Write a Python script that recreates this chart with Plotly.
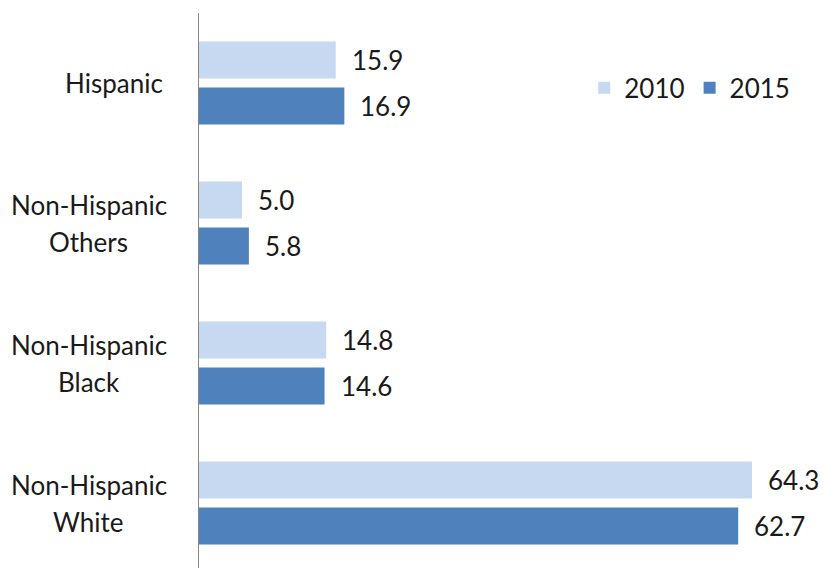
import plotly.graph_objects as go

categories = ["Hispanic", "Non-Hispanic<br>Others", "Non-Hispanic<br>Black", "Non-Hispanic<br>White"]
v2010 = [15.9, 5.0, 14.8, 64.3]
v2015 = [16.9, 5.8, 14.6, 62.7]
series_names = ["2010", "2015"]

FONT = "Lato"
FS = 26
C2010 = "#C6D9F0"
C2015 = "#4F81BD"
TXT = "#1a1a1a"

fig = go.Figure()
fig.add_trace(go.Bar(y=categories, x=v2010, name=series_names[0], orientation="h",
                     marker=dict(color=C2010, line=dict(width=0))))
fig.add_trace(go.Bar(y=categories, x=v2015, name=series_names[1], orientation="h",
                     marker=dict(color=C2015, line=dict(width=0))))

ann = []
for i, c in enumerate(categories):
    lines = c.split("<br>")
    n = len(lines)
    for k, ln in enumerate(lines):
        ys = ((n - 1) / 2 - k) * 37
        ann.append(dict(x=-34/602, y=c, xref="paper", yref="y", text=ln, showarrow=False,
                        xanchor="right" if n == 1 else "center", yanchor="middle", align="center",
                        xshift=0 if n == 1 else -(153/2),
                        yshift=ys,
                        font=dict(family=FONT, size=FS, color=TXT)))
    for vals, shift in ((v2010, 23.5), (v2015, -23)):
        ann.append(dict(x=vals[i], y=c, xref="x", yref="y", text=f"{vals[i]:.1f}",
                        showarrow=False, xanchor="left", yanchor="middle",
                        xshift=14, yshift=shift,
                        font=dict(family=FONT, size=FS, color=TXT)))

fig.update_layout(
    width=823, height=568,
    margin=dict(l=199, r=22, t=13, b=0),
    paper_bgcolor="white", plot_bgcolor="white",
    barmode="group", bargap=0.343, bargroupgap=0.196,
    showlegend=True,
    legend=dict(orientation="h", x=0.64, y=0.865, xanchor="left", yanchor="middle",
                font=dict(family=FONT, size=FS, color=TXT), bgcolor="rgba(0,0,0,0)",
                traceorder="normal"),
    annotations=ann,
    font=dict(family=FONT, size=FS, color=TXT),
)
fig.update_xaxes(range=[0, 70], visible=False, showgrid=False, zeroline=False)
fig.update_yaxes(categoryorder="array", categoryarray=categories,
                 range=[3.464, -0.5], showticklabels=False, ticks="",
                 showline=True, linecolor="#868686", linewidth=1, showgrid=False, zeroline=False)

fig.write_html("out.html", config={"displayModeBar": False},
               post_script="document.body.style.margin='0';document.body.style.overflow='hidden';")
